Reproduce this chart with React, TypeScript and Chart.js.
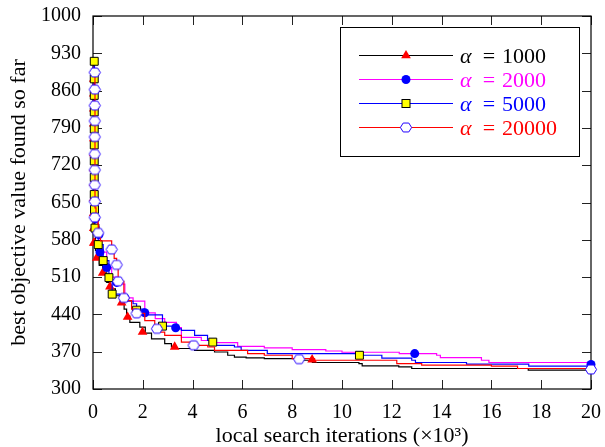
import React, { useEffect, useRef } from 'react';
import { Chart, registerables } from 'chart.js';
Chart.register(...registerables);

const FONT = '"Liberation Serif", "DejaVu Serif", serif';

const xTickValues = [0, 2, 4, 6, 8, 10, 12, 14, 16, 18, 20];
const yTickValues = [300, 370, 440, 510, 580, 650, 720, 790, 860, 930, 1000];
const xAxisTitle = 'local search iterations (×10³)';
const yAxisTitle = 'best objective value found so far';
const seriesNames = ['1000', '2000', '5000', '20000'];
const seriesColors = ['#000000', '#ff00ff', '#0000ff', '#ff0000'];

// alpha = 1000 (black line, red triangles)
const a1000X = [0.02, 0.03, 0.06, 0.1, 0.15, 0.25, 0.39, 0.55, 0.68, 0.9, 1.15, 1.25, 1.35, 1.48, 1.88, 2.1, 2.35, 2.88, 3.15, 3.35, 4.08, 4.88, 5.41, 5.68, 6.15, 6.88, 8.28, 8.81, 10.68, 10.81, 12.28, 12.8, 17.48, 20];
const a1000Y = [912, 640, 590, 560, 546, 532, 518, 500, 488, 475, 465, 450, 437, 425, 416, 405, 394, 385, 379, 376, 372.6, 369.4, 363.3, 360, 358.5, 357, 354, 349.7, 347.8, 343.4, 341.5, 338.5, 335.4, 334.5];
const a1000MarkX = [0.03, 0.03, 0.03, 0.03, 0.03, 0.03, 0.03, 0.03, 0.03, 0.03, 0.03, 0.03, 0.06, 0.15, 0.39, 0.68, 1.15, 1.39, 1.99, 3.28, 8.8];
const a1000MarkY = [882, 854, 826, 798, 770, 742, 714, 686, 658, 630, 602, 574, 574, 546, 518, 492, 462, 435, 407, 379, 355];

// alpha = 2000 (magenta line, blue circles)
const a2000X = [0.03, 0.04, 0.06, 0.1, 0.18, 0.24, 0.28, 0.55, 0.75, 0.95, 1.28, 1.61, 2.08, 2.5, 2.88, 3.35, 3.55, 4.35, 4.88, 5.81, 6.88, 8.0, 9.35, 10.0, 12.3, 13.8, 13.95, 15.6, 15.9, 20];
const a2000Y = [905, 840, 720, 640, 605, 590, 557, 528, 510, 497, 471, 465, 443, 432, 425, 415, 397, 391, 387, 380, 377, 374, 371.3, 369, 366.5, 363.3, 359, 354, 349.7, 346];
const a2000MarkX = [0.1, 0.24, 0.28, 0.55, 0.95, 1.28, 2.08, 3.32, 12.92, 20];
const a2000MarkY = [620, 590, 557, 528, 500, 471, 443, 415, 366.5, 346];

// alpha = 5000 (blue line, yellow squares)
const a5000X = [0.05, 0.06, 0.08, 0.21, 0.41, 0.64, 0.77, 1.08, 1.35, 1.61, 1.75, 2.08, 2.21, 2.79, 3.35, 3.55, 4.08, 4.6, 4.88, 5.68, 5.95, 7.0, 10.7, 11.6, 12.8, 12.95, 15.0, 17.5, 20];
const a5000Y = [915, 637, 602, 571, 541, 509, 478, 472, 465, 460, 450, 444, 439, 418, 413, 410, 400.5, 391, 382, 378.8, 372.6, 366.5, 363.3, 358, 354, 349.7, 346.5, 342.8, 341.5];
const a5000MarkX = [0.05, 0.05, 0.05, 0.05, 0.05, 0.05, 0.05, 0.05, 0.05, 0.06, 0.08, 0.21, 0.41, 0.64, 0.77, 1.75, 2.79, 4.81, 10.7];
const a5000MarkY = [915, 882, 851, 820, 788, 758, 728, 697, 665, 637, 602, 571, 541, 509, 478, 448, 418, 388, 363.3];

// alpha = 20000 (red line, white hexagons)
const a20000X = [0.07, 0.08, 0.12, 0.21, 0.3, 0.75, 0.85, 0.95, 1.01, 1.24, 1.41, 1.55, 1.75, 2.08, 2.48, 2.88, 3.55, 4.08, 4.61, 4.88, 6.21, 6.88, 8.0, 8.9, 12.2, 13.2, 16.0, 17.05, 20];
const a20000Y = [895, 640, 624, 593, 578, 562, 545, 532, 502, 471, 466, 450, 442, 428.5, 406.7, 400.5, 388, 382, 378.8, 372.6, 366.5, 363.3, 357, 354, 347.8, 344.7, 342.8, 338.5, 336.7];
const a20000MarkX = [0.07, 0.07, 0.07, 0.07, 0.07, 0.07, 0.07, 0.07, 0.07, 0.07, 0.21, 0.75, 0.95, 1.01, 1.24, 1.75, 2.57, 4.04, 8.28, 20];
const a20000MarkY = [894, 862, 832, 803, 773, 741, 711, 683, 652, 622, 593, 562, 533, 502, 471, 442, 413, 382, 356, 336.7];

const toPts = (xs: number[], ys: number[]) => xs.map((x, i) => ({ x, y: ys[i] }));

function hexPath(ctx: CanvasRenderingContext2D, cx: number, cy: number, r: number) {
  ctx.beginPath();
  for (let k = 0; k < 6; k++) {
    const a = (Math.PI / 3) * k;
    const px = cx + r * Math.cos(a);
    const py = cy + r * Math.sin(a) * 0.92;
    if (k === 0) ctx.moveTo(px, py);
    else ctx.lineTo(px, py);
  }
  ctx.closePath();
}

function makeHexImage() {
  const c = document.createElement('canvas');
  c.width = 14;
  c.height = 13;
  const ctx = c.getContext('2d')!;
  hexPath(ctx, 7, 6.5, 5.6);
  ctx.fillStyle = '#ffffff';
  ctx.fill();
  ctx.strokeStyle = '#2200ff';
  ctx.lineWidth = 1;
  ctx.stroke();
  return c;
}

function drawMarker(ctx: CanvasRenderingContext2D, kind: number, x: number, y: number) {
  ctx.save();
  ctx.lineWidth = 1;
  if (kind === 0) {
    const r = 5.6;
    ctx.beginPath();
    ctx.moveTo(x, y - r);
    ctx.lineTo(x + r * Math.sin((2 * Math.PI) / 3), y - r * Math.cos((2 * Math.PI) / 3));
    ctx.lineTo(x + r * Math.sin((4 * Math.PI) / 3), y - r * Math.cos((4 * Math.PI) / 3));
    ctx.closePath();
    ctx.fillStyle = '#ff0000';
    ctx.fill();
  } else if (kind === 1) {
    ctx.beginPath();
    ctx.arc(x, y, 4.5, 0, Math.PI * 2);
    ctx.fillStyle = '#0000ff';
    ctx.fill();
  } else if (kind === 2) {
    ctx.fillStyle = '#ffff00';
    ctx.fillRect(x - 4, y - 4, 8, 8);
    ctx.strokeStyle = '#000000';
    ctx.strokeRect(x - 4, y - 4, 8, 8);
  } else {
    hexPath(ctx, x, y, 5.6);
    ctx.fillStyle = '#ffffff';
    ctx.fill();
    ctx.strokeStyle = '#2200ff';
    ctx.stroke();
  }
  ctx.restore();
}

const framePlugin = {
  id: 'frameTicks',
  beforeDatasetsDraw(chart: any) {
    const { ctx, chartArea } = chart;
    const { left, right, top, bottom } = chartArea;
    const xs = chart.scales.x;
    const ys = chart.scales.y;
    const T = 9;
    ctx.save();
    ctx.strokeStyle = '#222';
    ctx.lineWidth = 1;
    ctx.beginPath();
    xTickValues.forEach((v) => {
      const p = Math.round(xs.getPixelForValue(v)) + 0.5;
      ctx.moveTo(p, bottom);
      ctx.lineTo(p, bottom - T);
      ctx.moveTo(p, top);
      ctx.lineTo(p, top + T);
    });
    yTickValues.forEach((v) => {
      const p = Math.round(ys.getPixelForValue(v)) + 0.5;
      ctx.moveTo(left, p);
      ctx.lineTo(left + T, p);
      ctx.moveTo(right, p);
      ctx.lineTo(right - T, p);
    });
    ctx.stroke();
    ctx.strokeStyle = '#000';
    ctx.lineWidth = 1.2;
    ctx.strokeRect(left, top, right - left, bottom - top);
    ctx.restore();
  },
};

const legendPlugin = {
  id: 'customLegend',
  afterDraw(chart: any) {
    const ctx: CanvasRenderingContext2D = chart.ctx;
    ctx.save();
    ctx.fillStyle = '#ffffff';
    ctx.fillRect(340.5, 27.5, 239, 129);
    ctx.strokeStyle = '#000000';
    ctx.lineWidth = 1;
    ctx.strokeRect(340.5, 27.5, 239, 129);
    seriesNames.forEach((name, i) => {
      const y = 55.5 + i * 24;
      ctx.strokeStyle = seriesColors[i];
      ctx.lineWidth = 1;
      ctx.beginPath();
      ctx.moveTo(359, y);
      ctx.lineTo(453, y);
      ctx.stroke();
      drawMarker(ctx, i, 406, y);
      ctx.fillStyle = seriesColors[i];
      ctx.textBaseline = 'alphabetic';
      ctx.textAlign = 'left';
      ctx.font = `italic 22px ${FONT}`;
      ctx.fillText('α', 460, y + 7);
      ctx.textAlign = 'center';
      ctx.font = `22px ${FONT}`;
      ctx.fillText('=', 489, y + 7);
      ctx.textAlign = 'left';
      ctx.fillText(name, 502, y + 7);
    });
    ctx.restore();
  },
};

export default function App() {
  const ref = useRef<HTMLCanvasElement>(null);
  useEffect(() => {
    if (!ref.current) return;
    const hex = makeHexImage();
    const lineDs = (xs: number[], ys: number[], color: string, order: number) => ({
      type: 'line',
      data: toPts(xs, ys),
      borderColor: color,
      borderWidth: 1.2,
      pointRadius: 0,
      stepped: true,
      fill: false,
      order,
    });
    const markDs = (xs: number[], ys: number[], style: any, radius: number, bg: string, border: string, bw: number, order: number) => ({
      type: 'line',
      data: toPts(xs, ys),
      showLine: false,
      pointStyle: style,
      pointRadius: radius,
      pointBackgroundColor: bg,
      pointBorderColor: border,
      pointBorderWidth: bw,
      order,
      clip: false,
    });
    const chart = new Chart(ref.current, {
      type: 'line',
      data: {
        datasets: [
          lineDs(a1000X, a1000Y, seriesColors[0], 8),
          markDs(a1000MarkX, a1000MarkY, 'triangle', 5.6, '#ff0000', '#ff0000', 0, 7),
          lineDs(a2000X, a2000Y, seriesColors[1], 6),
          markDs(a2000MarkX, a2000MarkY, 'circle', 4.5, '#0000ff', '#0000ff', 0, 5),
          lineDs(a5000X, a5000Y, seriesColors[2], 4),
          markDs(a5000MarkX, a5000MarkY, 'rect', 5.6, '#ffff00', '#000000', 1, 3),
          lineDs(a20000X, a20000Y, seriesColors[3], 2),
          markDs(a20000MarkX, a20000MarkY, hex, 6, '#ffffff', '#2200ff', 1, 1),
        ] as any,
      },
      options: {
        animation: false,
        responsive: false,
        events: [],
        layout: { padding: { left: 0, top: 13, right: 12, bottom: 0 } },
        plugins: { legend: { display: false }, tooltip: { enabled: false } },
        scales: {
          x: {
            type: 'linear',
            min: 0,
            max: 20,
            afterBuildTicks: (s: any) => {
              s.ticks = xTickValues.map((v) => ({ value: v }));
            },
            afterFit: (s: any) => {
              s.height = 58;
            },
            grid: { display: false },
            border: { display: false },
            ticks: { font: { family: FONT, size: 20 }, color: '#000', padding: 4, maxRotation: 0, autoSkip: false, callback: (v: any) => String(v) },
            title: { display: true, text: xAxisTitle, font: { family: FONT, size: 22, lineHeight: 1 }, color: '#000', padding: { top: 0, bottom: 0 } },
          },
          y: {
            type: 'linear',
            min: 300,
            max: 1000,
            afterBuildTicks: (s: any) => {
              s.ticks = yTickValues.map((v) => ({ value: v }));
            },
            afterFit: (s: any) => {
              s.width = 93;
            },
            grid: { display: false },
            border: { display: false },
            ticks: { font: { family: FONT, size: 20 }, color: '#000', padding: 4, autoSkip: false, callback: (v: any) => String(v) },
            title: { display: true, text: yAxisTitle, font: { family: FONT, size: 22 }, color: '#000', padding: { top: 6, bottom: 0 } },
          },
        },
      },
      plugins: [framePlugin, legendPlugin],
    } as any);
    return () => chart.destroy();
  }, []);
  return (
    <div style={{ position: 'absolute', left: 0, top: 0, width: 605, height: 447, background: '#fff' }}>
      <canvas ref={ref} width={605} height={447} style={{ display: 'block' }} />
    </div>
  );
}
